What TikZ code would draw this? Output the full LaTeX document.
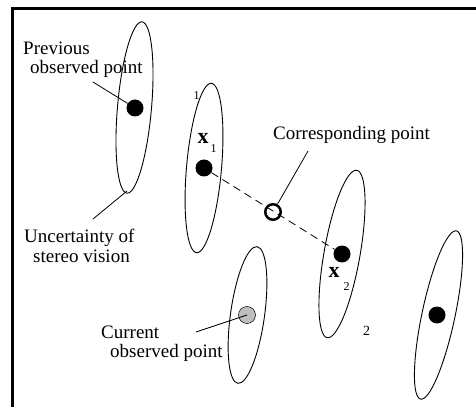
\documentclass[tikz,border=0pt]{standalone}
\usepackage{fontspec}
\setmainfont{Liberation Serif}
\begin{document}
\begin{tikzpicture}[x=1pt,y=1pt,
  lbl/.style={inner sep=0pt,anchor=base west,font=\fontsize{19}{19}\selectfont},
  num/.style={inner sep=0pt,anchor=base west,font=\fontsize{12}{12}\selectfont},
  var/.style={inner sep=0pt,anchor=base west,font=\fontsize{22}{22}\selectfont\bfseries},
  blob/.style={circle,fill=black,inner sep=0pt,minimum size=17pt},
  greyblob/.style={circle,fill=black!25,draw=black,line width=0.5pt,inner sep=0pt,minimum size=17pt},
  ring/.style={circle,draw=black,line width=2.5pt,inner sep=0pt,minimum size=15.5pt},
  oval/.style={line width=0.9pt},
  leader/.style={line width=0.8pt},
  frameline/.style={line width=2.6pt}]
\useasboundingbox (0,0) rectangle (476,407);

% frame (left and top edges)
\draw[frameline] (12.2,0) -- (12.2,398.3) -- (476,398.3);

% uncertainty ellipses
\draw[oval,rotate around={-5:(134.5,299.5)}] (134.5,299.5) ellipse [x radius=17pt,y radius=86pt];
\draw[oval,rotate around={-5:(204,239)}] (204,239) ellipse [x radius=17.5pt,y radius=85pt];
\draw[oval,rotate around={-10:(342,153)}] (342,153) ellipse [x radius=18pt,y radius=85pt];
\draw[oval,rotate around={-8:(247.5,92)}] (247.5,92) ellipse [x radius=17pt,y radius=69pt];
\draw[oval,rotate around={-12:(438.5,92)}] (438.5,92) ellipse [x radius=16.5pt,y radius=86pt];

% observed points
\node[blob] (prev) at (135,299) {};
\node[blob] (p1) at (204,239) {};
\node[blob] (p2) at (342,153) {};
\node[greyblob] (cur) at (247,92) {};
\node[blob] (other) at (437,92) {};
\node[ring] (corr) at (273,195) {};

% line between the matched points
\draw[leader,dash pattern=on 8pt off 5pt] (p1) -- (p2);

% labels
\node[lbl] (tprev1) at (23,352) {Previous};
\node[lbl] (tprev2) at (30,333) {observed point};
\node[lbl] (tunc1) at (24,164) {Uncertainty of};
\node[lbl] (tunc2) at (33,144) {stereo vision};
\node[lbl] (tcorr) at (273,267) {Corresponding point};
\node[lbl] (tcur1) at (101,69) {Current};
\node[lbl] (tcur2) at (110,50) {observed point};

\node[num] (n1) at (193.5,307) {1};
\node[num] (n2) at (363,72) {\fontsize{14}{14}\selectfont 2};
\node[var] (x1) at (197.5,263) {x};
\node[num] (x1s) at (210.5,254) {1};
\node[var] (x2) at (328.5,129) {x};
\node[num] (x2s) at (343.5,117) {2};

% leader lines
\coordinate (lprev) at (93,325);
\coordinate (lunc) at (93,188);
\coordinate (lunce) at (127,216);
\coordinate (lcorr) at (308,256);
\coordinate (lcur) at (196,75);
\draw[leader] (lprev) -- (prev);
\draw[leader] (lunc) -- (lunce);
\draw[leader] (lcorr) -- (corr);
\draw[leader] (lcur) -- (cur.center);
\end{tikzpicture}
\end{document}
